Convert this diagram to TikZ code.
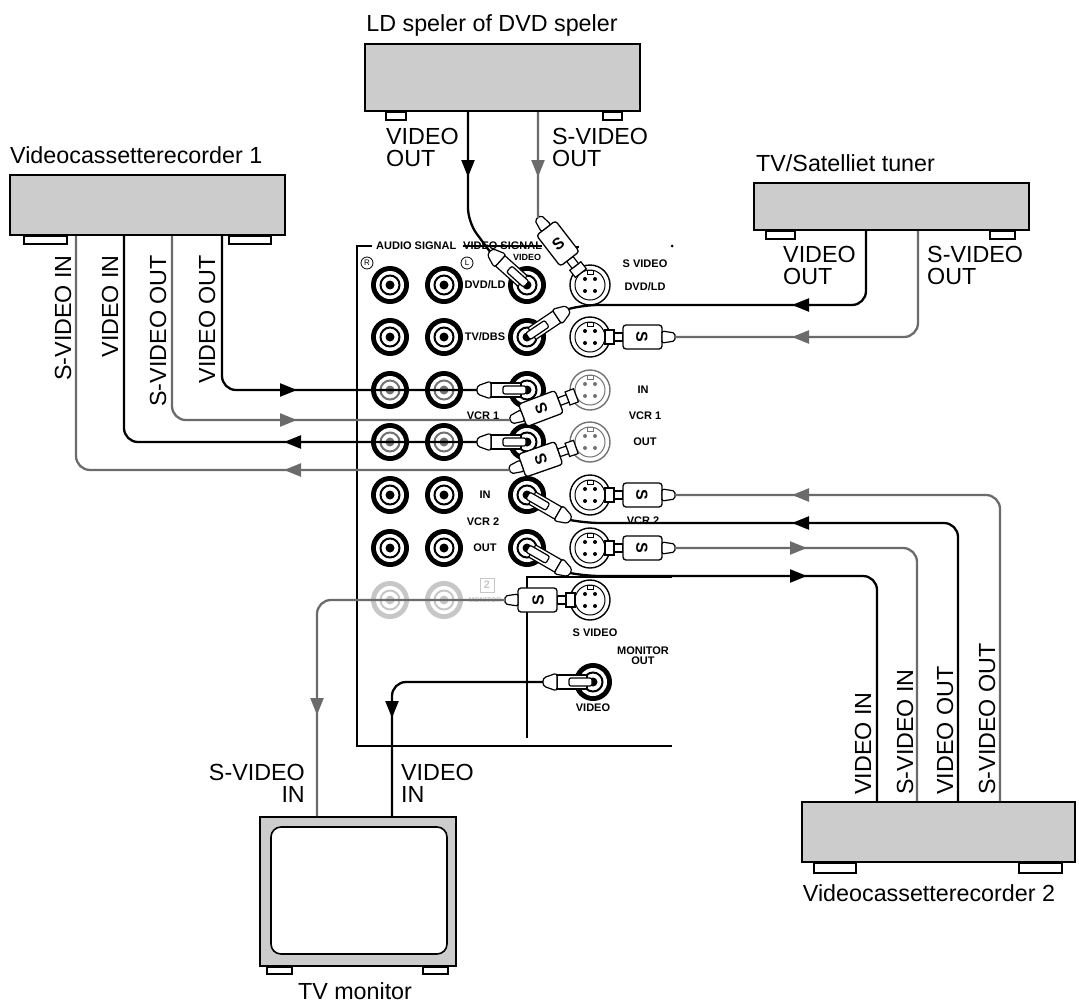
\documentclass[tikz,border=0pt]{standalone}
\usepackage{fontspec}
\setmainfont{Liberation Sans}
\usetikzlibrary{arrows.meta}
\definecolor{cablegray}{gray}{0.42}
\definecolor{boxgray}{gray}{0.8}
\definecolor{fadegray}{gray}{0.78}
\definecolor{jackgray}{gray}{0.45}
\tikzset{
  device/.style={draw, line width=2pt, fill=boxgray, inner sep=0pt},
  foot/.style={draw, line width=1.4pt, fill=white},
  panel/.style={line width=2pt},
  vcab/.style={line width=2.3pt, rounded corners=14pt},
  scab/.style={line width=2.3pt, rounded corners=14pt, draw=cablegray},
  varr/.style={-{Triangle[length=17pt,width=13pt]}, line width=2.3pt},
  sarr/.style={-{Triangle[length=17pt,width=13pt]}, line width=2.3pt, draw=cablegray},
  blab/.style={font=\fontsize{23.3}{22.5}\selectfont, inner sep=0pt},
  plab/.style={font=\fontsize{11}{10}\selectfont\bfseries, inner sep=0pt},
  pics/rcajack/.style n args={2}{code={
    \fill[#1] (0,0) circle (19);
    \fill[white] (0,0) circle (14);
    \draw[#2, line width=2pt] (0,0) circle (9.5);
    \fill[#2] (0,0) circle (4.5);
  }},
  pics/sjack/.style={code={
    \draw[#1, line width=1.4pt, fill=white] (0,0) circle (20);
    \draw[#1, line width=1pt] (0,0) circle (15);
    \fill[#1] (-5,-6) circle (2) (5,-6) circle (2) (-5,6) circle (2) (5,6) circle (2);
    \draw[#1, line width=0.9pt] (-3,-15) rectangle (3,-11);
  }},
  pics/rcaplug/.style={code={
    \draw[line width=1.2pt, fill=white] (-36,-7) rectangle (-6,7);
    \draw[line width=1.2pt, fill=white, rounded corners=2pt] (-24,-4) rectangle (-1,4);
    \draw[line width=1.2pt, fill=white, rounded corners=3pt] (-36,-9) -- (-36,9) -- (-50,4) -- (-50,-4) -- cycle;
    \coordinate (-tail) at (-50,0);
  }},
  pics/splug/.style={code={
    \draw[line width=1.2pt, fill=white] (-24,-7) rectangle (-15,7);
    \draw[line width=1.2pt, fill=white] (-33,-4) rectangle (-24,4);
    \draw[line width=1.3pt, fill=white, rounded corners=3pt] (-72,-12) rectangle (-33,12);
    \node[transform shape, rotate=90, inner sep=0pt, font=\fontsize{16}{16}\selectfont\bfseries] (-s) at (-52,0) {S};
    \draw[line width=1.2pt, fill=white, rounded corners=2pt] (-72,-6) -- (-85,-4) -- (-85,4) -- (-72,6) -- cycle;
    \coordinate (-tail) at (-85,0);
  }},
}
\begin{document}
\begin{tikzpicture}[x=1pt,y=-1pt]
\useasboundingbox (0,0) rectangle (1079,1007);
% devices
\node[device, minimum width=275pt, minimum height=67pt] (ldp) at (502.5,77.5) {};
\draw[foot] ([xshift=22pt]ldp.south west) rectangle ++(20,8);
\draw[foot] ([xshift=-38pt]ldp.south east) rectangle ++(19,8);
\node[blab] (tldp) at (492,25) {LD speler of DVD speler};
\node[device, minimum width=275pt, minimum height=60pt] (vcra) at (147.5,205) {};
\draw[foot] ([xshift=15pt]vcra.south west) rectangle ++(43,8);
\draw[foot] ([xshift=-57pt]vcra.south east) rectangle ++(42,8);
\node[blab, anchor=west] (tvcra) at (10,155) {Videocassetterecorder 1};
\node[device, minimum width=275pt, minimum height=47pt] (tuner) at (891.5,206.5) {};
\draw[foot] ([xshift=13pt]tuner.south west) rectangle ++(29,8);
\draw[foot] ([xshift=-40pt]tuner.south east) rectangle ++(25,8);
\node[blab, anchor=west] (ttuner) at (756,163) {TV/Satelliet tuner};
\node[device, minimum width=273pt, minimum height=60pt] (vcrb) at (938.5,832) {};
\draw[foot] ([xshift=13pt]vcrb.south west) rectangle ++(42,10);
\draw[foot] ([xshift=-57pt]vcrb.south east) rectangle ++(43,10);
\node[blab] (tvcrb) at (929,893) {Videocassetterecorder 2};
\node[device, minimum width=196pt, minimum height=149pt] (tv) at (358,891.5) {};
\draw[line width=1.6pt, fill=white, rounded corners=10pt] ([shift={(12,11)}]tv.north west) rectangle ([shift={(-10,-13)}]tv.south east);
\draw[foot] ([xshift=8pt]tv.south west) rectangle ++(25,7);
\draw[foot] ([xshift=-34pt]tv.south east) rectangle ++(25,7);
\node[blab] (ttv) at (355,991) {TV monitor};
% receiver panel
\draw[panel] (372,246) -- (357,246) -- (357,746) -- (672,746);
\draw[panel] (527,738) -- (527,577) -- (672,577);
\node[plab, anchor=west] (asig) at (376,246) {AUDIO SIGNAL};
\node[plab, anchor=west] (vsig) at (463,246) {VIDEO SIGNAL};
\draw[line width=1.2pt] (vsig.west) -- (vsig.east);
\draw[line width=1.2pt] (571,247) -- (579,247);
\fill (672,246) circle (1.5);
\node[plab, font=\fontsize{9}{9}\selectfont\bfseries] (vvid) at (527,257) {VIDEO};
\node[circle, draw, line width=0.8pt, inner sep=0pt, minimum size=12pt, font=\fontsize{8}{8}\selectfont] (rch) at (367,263) {R};
\node[circle, draw, line width=0.8pt, inner sep=0pt, minimum size=12pt, font=\fontsize{8}{8}\selectfont] (lch) at (467,263) {L};
\foreach \y/\c in {285/black,337/black,390/jackgray,442/jackgray,495/black,548/black} {
  \pic at (390,\y) {rcajack={black}{\c}};
  \pic at (444,\y) {rcajack={black}{\c}};
  \pic at (527,\y) {rcajack={black}{black}};
}
\foreach \y/\c in {285/black,337/black,390/jackgray,442/jackgray,495/black,548/black,600/black}
  \pic at (590,\y) {sjack=\c};
\pic at (390,600) {rcajack={fadegray}{fadegray}};
\pic at (444,600) {rcajack={fadegray}{fadegray}};
\pic at (593,682) {rcajack={black}{black}};
\node[plab, draw=fadegray, text=fadegray, minimum size=14pt] (tbox) at (487,585) {2};
\node[plab, text=fadegray, font=\fontsize{7}{7}\selectfont\bfseries] (tlab) at (485,600) {MONITOR};
\node[plab] (ldvd) at (485,285) {DVD/LD};
\node[plab] (ltv) at (485,337) {TV/DBS};
\node[plab] (lvone) at (483,416) {VCR 1};
\node[plab] (lin) at (485,495) {IN};
\node[plab] (lvtwo) at (483,522) {VCR 2};
\node[plab] (lout) at (485,548) {OUT};
\node[plab] (rsv) at (645,264) {S VIDEO};
\node[plab] (rdvd) at (645,287) {DVD/LD};
\node[plab] (rin) at (643,390) {IN};
\node[plab] (rvone) at (645,416) {VCR 1};
\node[plab] (rout) at (645,442) {OUT};
\node[plab] (rvtwo) at (643,521) {VCR 2};
\node[plab] (msv) at (595,633) {S VIDEO};
\node[plab, align=center] (mout) at (643,656) {MONITOR\\OUT};
\node[plab] (mvid) at (593,708) {VIDEO};
% plugs
\pic[rotate=-42] (pdv) at (527,285) {rcaplug};
\pic[rotate=-52.3] (pds) at (590,285) {splug};
\pic[rotate=-146] (ptv) at (527,337) {rcaplug};
\pic[rotate=180] (pts) at (590,337) {splug};
\pic (pv1i) at (527,390) {rcaplug};
\pic[rotate=20.7] (ps1i) at (590,390) {splug};
\pic (pv1o) at (527,442) {rcaplug};
\pic[rotate=19.2] (ps1o) at (590,442) {splug};
\pic[rotate=150] (pv2i) at (527,495) {rcaplug};
\pic[rotate=180] (ps2i) at (590,495) {splug};
\pic[rotate=150] (pv2o) at (527,548) {rcaplug};
\pic[rotate=180] (ps2o) at (590,548) {splug};
\pic (pms) at (590,600) {splug};
\pic (pmv) at (593,682) {rcaplug};
% cables
\draw[vcab] (ldp.south -| 468,0) -- (468,222) -- (pdv-tail);
\draw[scab] (ldp.south -| 538,0) -- (pds-tail);
\draw[vcab] (tuner.south -| 866,0) |- (584,305) -- (ptv-tail);
\draw[scab] (tuner.south -| 918,0) |- (pts-tail);
\draw[vcab] (vcra.south -| 222,0) |- (pv1i-tail);
\draw[scab] (vcra.south -| 172,0) |- (ps1i-tail);
\draw[vcab] (vcra.south -| 124,0) |- (pv1o-tail);
\draw[scab] (vcra.south -| 76,0) |- (ps1o-tail);
\draw[scab] (vcrb.north -| 1000,0) |- (ps2i-tail);
\draw[vcab] (vcrb.north -| 958,0) |- (586,523) -- (pv2i-tail);
\draw[scab] (vcrb.north -| 917,0) |- (ps2o-tail);
\draw[vcab] (vcrb.north -| 877,0) |- (586,576) -- (pv2o-tail);
\draw[scab] (tv.north -| 317,0) |- (pms-tail);
\draw[vcab] (tv.north -| 392,0) |- (pmv-tail);
% arrow heads
\draw[varr] (281,390) -- (297,390);
\draw[sarr] (281,420) -- (297,420);
\draw[varr] (300,442) -- (284,442);
\draw[sarr] (300,470) -- (284,470);
\draw[varr] (468,160) -- (468,177);
\draw[sarr] (538,160) -- (538,177);
\draw[varr] (809,305) -- (792,305);
\draw[sarr] (809,337) -- (792,337);
\draw[sarr] (809,495) -- (792,495);
\draw[varr] (809,523) -- (792,523);
\draw[sarr] (790,548) -- (807,548);
\draw[varr] (790,576) -- (807,576);
\draw[sarr] (317,698) -- (317,715);
\draw[varr] (392,701) -- (392,718);
% cable labels
\node[blab, anchor=north west, align=left] (ldpv) at (386,128) {VIDEO\\OUT};
\node[blab, anchor=north west, align=left] (ldps) at (552,128) {S-VIDEO\\OUT};
\node[blab, anchor=north west, align=left] (tunv) at (783,246) {VIDEO\\OUT};
\node[blab, anchor=north west, align=left] (tuns) at (927,246) {S-VIDEO\\OUT};
\node[blab, rotate=90, anchor=east] (asi) at (63,255) {S-VIDEO IN};
\node[blab, rotate=90, anchor=east] (avi) at (110,255) {VIDEO IN};
\node[blab, rotate=90, anchor=east] (aso) at (158,255) {S-VIDEO OUT};
\node[blab, rotate=90, anchor=east] (avo) at (207,255) {VIDEO OUT};
\node[blab, rotate=90, anchor=west] (bvi) at (863,795) {VIDEO IN};
\node[blab, rotate=90, anchor=west] (bsi) at (905,795) {S-VIDEO IN};
\node[blab, rotate=90, anchor=west] (bvo) at (945,795) {VIDEO OUT};
\node[blab, rotate=90, anchor=west] (bso) at (987,795) {S-VIDEO OUT};
\node[blab, anchor=north east, align=right] (tvs) at (305,764) {S-VIDEO\\IN};
\node[blab, anchor=north west, align=left] (tvv) at (401,764) {VIDEO\\IN};
\end{tikzpicture}
\end{document}
